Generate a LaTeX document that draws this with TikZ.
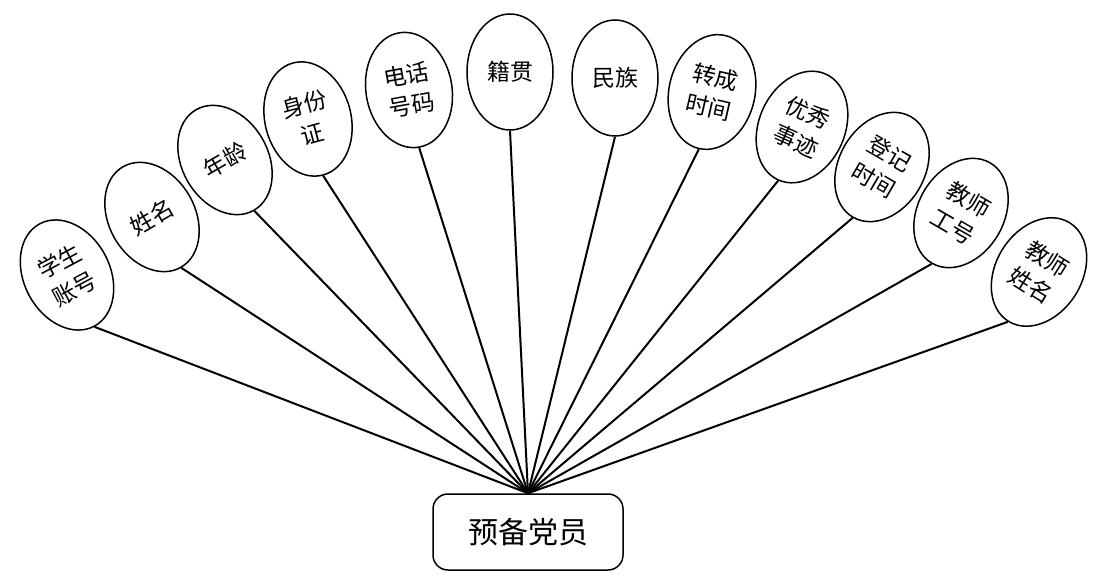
\documentclass[tikz,border=0pt]{standalone}
\usepackage{fontspec}
\setmainfont{Noto Sans CJK SC}
\usetikzlibrary{shapes.geometric}
\begin{document}
\begin{tikzpicture}[x=1pt,y=-1pt,
  attr/.style={ellipse,draw,line width=1.5pt,minimum width=86pt,minimum height=116pt,inner sep=0pt,align=center,font=\fontsize{23}{31}\selectfont,fill=white},
  ent/.style={rectangle,rounded corners=15pt,draw,line width=1.5pt,minimum width=190pt,minimum height=76pt,font=\fontsize{30}{36}\selectfont},
  link/.style={line width=2pt}]
\useasboundingbox (0,0) rectangle (1098,585);
\node[ent] (e) at (528,532) {预备党员};
\node[attr,rotate=28] (a1) at (67,275) {学生\\账号};
\node[attr,rotate=30] (a2) at (152,217) {姓名};
\node[attr,rotate=30] (a3) at (225,160) {年龄};
\node[attr,rotate=15] (a4) at (308,119) {身份\\证};
\node[attr,rotate=10] (a5) at (409,90) {电话\\号码};
\node[attr] (a6) at (510,72) {籍贯};
\node[attr] (a7) at (615,78) {民族};
\node[attr,rotate=-13] (a8) at (712,92) {转成\\时间};
\node[attr,rotate=-24] (a9) at (802,127) {优秀\\事迹};
\node[attr,rotate=-30] (a10) at (882,167) {登记\\时间};
\node[attr,rotate=-30] (a11) at (961,213) {教师\\工号};
\node[attr,rotate=-32] (a12) at (1039,272) {教师\\姓名};
\foreach \i in {1,...,12} {\draw[link] (a\i.south) -- (e.north);}
\end{tikzpicture}
\end{document}
